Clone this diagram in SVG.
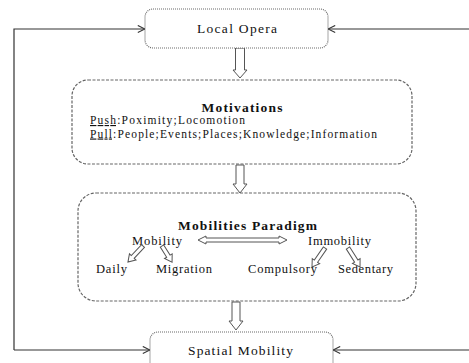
<svg xmlns="http://www.w3.org/2000/svg" width="469" height="363" viewBox="0 0 469 363">
<style>
.dot{fill:#fff;stroke:#6a6a6a;stroke-width:1.2;stroke-dasharray:1 1}
.dash{fill:#fff;stroke:#666;stroke-width:1.2;stroke-dasharray:3 1.5}
.t{font-family:"Liberation Serif","DejaVu Serif","Times New Roman",serif;font-size:12.5px;fill:#111}
.s{font-size:11.5px}
.l{font-size:13.5px}
.b{font-weight:bold;font-size:13.5px}
.blk{fill:#fff;stroke:#555;stroke-width:1}
.ln{fill:none;stroke:#333;stroke-width:1.2}
</style>
<defs>
<marker id="v" viewBox="0 0 10 10" refX="9" refY="5" markerWidth="9" markerHeight="9" markerUnits="userSpaceOnUse" orient="auto">
<path d="M1,1 L9,5 L1,9" fill="none" stroke="#333" stroke-width="1.2"/>
</marker>
</defs>
<rect width="469" height="363" fill="#fff"/>
<g id="connectors">
<path class="ln" d="M14,350 L14,29 L145,29" marker-end="url(#v)"/>
<path class="ln" d="M14,350 L150,350" marker-end="url(#v)"/>
<path class="ln" d="M469,29 L328,29" marker-end="url(#v)"/>
<path class="ln" d="M469,350 L333,350" marker-end="url(#v)"/>
<path class="blk" d="M235.5,48 L244.5,48 L244.5,70 L247,70 L240,78 L233,70 L235.5,70 Z"/>
<path class="blk" d="M236,165 L244,165 L244,184 L247,184 L240,193 L233,184 L236,184 Z"/>
<path class="blk" d="M232,302 L240,302 L240,321 L243,321 L236,330 L229,321 L232,321 Z"/>
</g>
<g id="local-opera">
<rect class="dot" x="145" y="9" width="183" height="39" rx="8"/>
<text class="t l" x="237" y="33" text-anchor="middle" textLength="80" lengthAdjust="spacing">Local Opera</text>
</g>
<g id="motivations">
<rect class="dash" x="72" y="80" width="340" height="84" rx="16"/>
<text class="t b" x="242" y="112" text-anchor="middle" textLength="81" lengthAdjust="spacing">Motivations</text>
<text class="t s" x="90" y="124" textLength="155" lengthAdjust="spacing"><tspan text-decoration="underline">Push</tspan>:Poximity;Locomotion</text>
<text class="t s" x="90" y="137.5" textLength="287" lengthAdjust="spacing"><tspan text-decoration="underline">Pull</tspan>:People;Events;Places;Knowledge;Information</text>
</g>
<g id="mobilities">
<rect class="dash" x="78" y="193" width="338" height="108" rx="18"/>
<text class="t b" x="247.5" y="230" text-anchor="middle" textLength="139" lengthAdjust="spacing">Mobilities Paradigm</text>
<text class="t" x="157" y="245" text-anchor="middle" textLength="50" lengthAdjust="spacing">Mobility</text>
<text class="t" x="339.5" y="245" text-anchor="middle" textLength="63" lengthAdjust="spacing">Immobility</text>
<text class="t" x="111.5" y="273" text-anchor="middle" textLength="31" lengthAdjust="spacing">Daily</text>
<text class="t" x="184" y="273" text-anchor="middle" textLength="56" lengthAdjust="spacing">Migration</text>
<text class="t" x="282.5" y="273" text-anchor="middle" textLength="69" lengthAdjust="spacing">Compulsory</text>
<text class="t" x="365.5" y="273" text-anchor="middle" textLength="55" lengthAdjust="spacing">Sedentary</text>
<path class="blk" d="M198,240 L206,236 L206,238 L279,238 L279,236 L287,240 L279,244 L279,242 L206,242 L206,244 Z"/>
<path class="blk" transform="translate(143,246) rotate(133.2)" d="M0,-2 L15,-2 L15,-4.5 L22,0 L15,4.5 L15,2 L0,2 Z"/>
<path class="blk" transform="translate(162,246) rotate(58)" d="M0,-2 L12,-2 L12,-4.5 L19,0 L12,4.5 L12,2 L0,2 Z"/>
<path class="blk" transform="translate(325,248) rotate(124.4)" d="M0,-2 L16,-2 L16,-4.5 L23,0 L16,4.5 L16,2 L0,2 Z"/>
<path class="blk" transform="translate(348,248) rotate(57.7)" d="M0,-2 L15.5,-2 L15.5,-4.5 L22.5,0 L15.5,4.5 L15.5,2 L0,2 Z"/>
</g>
<g id="spatial-mobility">
<rect class="dot" x="150" y="332" width="183" height="45" rx="8"/>
<text class="t l" x="240.5" y="355" text-anchor="middle" textLength="105" lengthAdjust="spacing">Spatial Mobility</text>
</g>
</svg>
